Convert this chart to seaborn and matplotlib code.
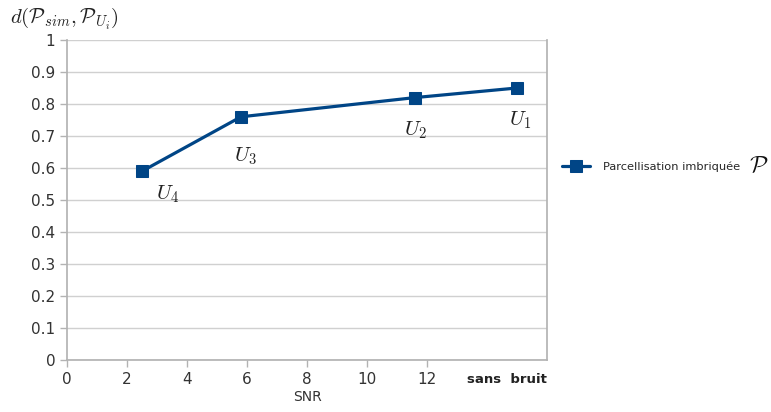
import pandas as pd
import seaborn as sns
import matplotlib
matplotlib.use("Agg")
import matplotlib.pyplot as plt

# values
snr = [2.5, 5.8, 11.6, 15.0]
dist = [0.59, 0.76, 0.82, 0.85]
point_labels = ["$U_4$", "$U_3$", "$U_2$", "$U_1$"]
series_name = "Parcellisation imbriquée"
x_ticks = [0, 2, 4, 6, 8, 10, 12]
y_ticks = [0, 0.1, 0.2, 0.3, 0.4, 0.5, 0.6, 0.7, 0.8, 0.9, 1]

df = pd.DataFrame({"SNR": snr, "d": dist, "serie": series_name})

sns.set_theme(style="white")
plt.rcParams["font.family"] = ["DejaVu Sans"]
plt.rcParams["mathtext.fontset"] = "cm"

fig = plt.figure(figsize=(7.71, 4.12), dpi=100)
ax = fig.add_axes([0.0869, 0.126, 0.6226, 0.777])

blue = "#004586"
sns.lineplot(data=df, x="SNR", y="d", hue="serie", palette=[blue], marker="s",
             markersize=9, markeredgecolor=blue, linewidth=2.3, ax=ax, legend=True)

# point annotations
offsets = [(10, -20), (-5, -32), (-8, -27), (-6, -27)]
for x, y, lab, off in zip(snr, dist, point_labels, offsets):
    ax.annotate(lab, (x, y), xytext=off, textcoords="offset points",
                fontsize=15, color="#222222")

ax.set_xlim(0, 16)
ax.set_ylim(0, 1)
ax.set_xticks(x_ticks)
ax.set_yticks(y_ticks)
ax.set_yticklabels([f"{v:g}" for v in y_ticks])
ax.tick_params(axis="both", labelsize=11, colors="#333333")
ax.tick_params(axis="x", length=5, width=1, color="#b3b3b3", direction="out", bottom=True)
ax.tick_params(axis="y", length=5, width=1, color="#b3b3b3", direction="out", left=True)
ax.yaxis.grid(True, color="#d0d0d0", linewidth=1)
ax.xaxis.grid(False)
for side in ["left", "bottom", "right"]:
    ax.spines[side].set_color("#b3b3b3")
ax.spines["top"].set_visible(False)

ax.set_xlabel("SNR", fontsize=10, color="#333333", labelpad=2)
ax.set_ylabel("")
ax.text(14.65, -0.04, "sans  bruit", fontsize=9.5, fontweight="bold", color="#222222",
        ha="center", va="top")

fig.text(0.013, 0.955, r"$d(\mathcal{P}_{sim},\mathcal{P}_{U_i})$", fontsize=15,
         color="#222222", va="center")

handles, labels = ax.get_legend_handles_labels()
ax.get_legend().remove()
fig.legend(handles, labels, loc="center left", bbox_to_anchor=(0.715, 0.595),
           frameon=False, handlelength=2.5, handletextpad=1.1, prop={"size": 8.2})
fig.text(0.972, 0.6, r"$\mathcal{P}$", fontsize=17, color="#111111", va="center")

fig.savefig("out.png", dpi=100)
